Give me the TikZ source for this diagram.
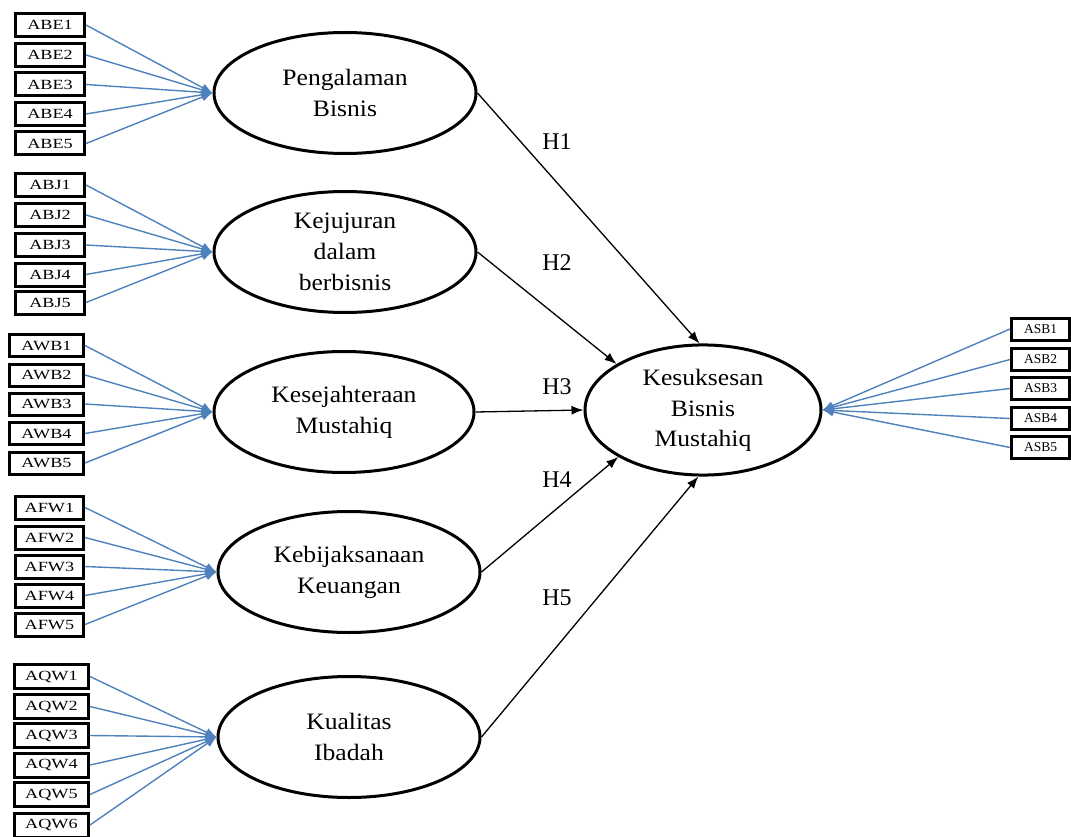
\documentclass[tikz,border=0pt]{standalone}
\usepackage{fontspec}
\setmainfont{Liberation Serif}
\newfontfamily\boxfont[FakeStretch=1.3]{Liberation Serif}
\newfontfamily\ellfont[FakeStretch=1.09]{Liberation Serif}
\usetikzlibrary{shapes.geometric,arrows.meta}
\definecolor{indblue}{RGB}{79,129,189}
\tikzset{
  ind/.style={draw=black, line width=3pt, rectangle, inner sep=0pt, minimum height=23pt, font=\boxfont\fontsize{14}{16}\selectfont},
  indr/.style={draw=black, line width=3pt, rectangle, inner sep=0pt, minimum height=22pt, minimum width=58pt, font=\fontsize{13.5}{16}\selectfont},
  lat/.style={draw=black, line width=3pt, ellipse, inner sep=0pt, minimum width=262pt, minimum height=121pt, align=center, font=\ellfont\fontsize{23.5}{31}\selectfont},
  load/.style={draw=indblue, line width=1.4pt, -{Latex[length=11pt,width=9pt]}},
  struct/.style={draw=black, line width=1.3pt, -{Latex[length=12pt,width=9pt]}},
  hyp/.style={font=\fontsize{24}{28}\selectfont, inner sep=0pt},
}
\begin{document}
\begin{tikzpicture}[x=1pt,y=-1pt]
\useasboundingbox (0,0) rectangle (1071,837);
% latent variables
\node[lat] (pe) at (345,93) {Pengalaman\\Bisnis};
\node[lat] (kj) at (345,252) {Kejujuran\\dalam\\berbisnis};
\node[lat, minimum width=260pt] (kw) at (344,412) {Kesejahteraan\\Mustahiq};
\node[lat] (kb) at (349,572) {Kebijaksanaan\\Keuangan};
\node[lat] (kq) at (349,737) {Kualitas\\Ibadah};
\node[lat, minimum width=236pt, minimum height=122pt] (ks) at (703,410) {\raisebox{-4pt}{\begin{tabular}{@{}c@{}}Kesuksesan\\[-0.5pt]Bisnis\\[-0.5pt]Mustahiq\end{tabular}}};
% indicators
\foreach \i/\y in {1/25,2/55,3/84.5,4/114,5/143.5}{
  \node[ind, minimum width=69pt] (abe\i) at (50,\y) {ABE\i};
  \draw[load] (abe\i.east) -- (pe.west);
}
\foreach \i/\y in {1/185,2/215,3/245,4/274.5,5/302.5}{
  \node[ind, minimum width=69pt] (abj\i) at (50,\y) {ABJ\i};
  \draw[load] (abj\i.east) -- (kj.west);
}
\foreach \i/\y in {1/345.5,2/375,3/404,4/433.5,5/463}{
  \node[ind, minimum width=74pt, minimum height=22pt] (awb\i) at (46.5,\y) {AWB\i};
  \draw[load] (awb\i.east) -- (kw.west);
}
\foreach \i/\y in {1/507.5,2/537.5,3/566.5,4/595.5,5/624.5}{
  \node[ind, minimum width=68pt] (afw\i) at (49.5,\y) {AFW\i};
  \draw[load] (afw\i.east) -- (kb.west);
}
\foreach \i/\y in {1/676.5,2/706.5,3/735.5,4/765,5/794.5,6/825}{
  \node[ind, minimum width=74pt, minimum height=24pt] (aqw\i) at (51.5,\y) {AQW\i};
  \draw[load] (aqw\i.east) -- (kq.west);
}
\foreach \i/\y in {1/329,2/359.5,3/388.5,4/418.5,5/447.5}{
  \node[indr] (asb\i) at (1040.5,\y) {ASB\i};
  \draw[load] (asb\i.west) -- (ks.east);
}
% structural paths
\draw[struct] (pe.east) -- (ks.93);
\draw[struct] (kj.east) -- (ks.152);
\draw[struct] (kw.east) -- (ks.west);
\draw[struct] (kb.east) -- (ks.209);
\draw[struct] (kq.east) -- (ks.266);
% hypothesis labels
\node[hyp] (h1) at (557,142) {H1};
\node[hyp] (h2) at (557,263) {H2};
\node[hyp] (h3) at (557,387) {H3};
\node[hyp] (h4) at (557,480) {H4};
\node[hyp] (h5) at (557,598) {H5};
\end{tikzpicture}
\end{document}
